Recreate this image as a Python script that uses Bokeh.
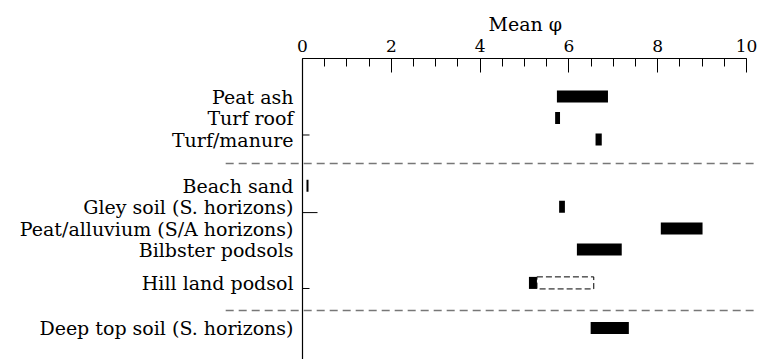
from bokeh.plotting import figure
from bokeh.models import Range1d, LinearAxis, SingleIntervalTicker, Span, ColumnDataSource, Title
from bokeh.core.properties import value
from bokeh.embed import file_html
from bokeh.resources import INLINE

# ---- data ----
rows = ["Peat ash", "Turf roof", "Turf/manure", "Beach sand",
        "Gley soil (S. horizons)", "Peat/alluvium (S/A horizons)",
        "Bilbster podsols", "Hill land podsol", "Deep top soil (S. horizons)"]
mean_lo = [5.73, 5.69, 6.60, 0.09, 5.78, 8.07, 6.18, 5.10, 6.49]
mean_hi = [6.88, 5.80, 6.74, 0.135, 5.91, 9.01, 7.19, 5.28, 7.35]
# dashed (uncertain) extension for Hill land podsol
ext_rows = ["Hill land podsol"]
ext_lo = [5.28]
ext_hi = [6.56]

# ---- layout (row positions in row units, top = 0) ----
row_pos = [0, 1, 2, 4.15, 5.13, 6.14, 7.12, 8.67, 10.77]
sep_pos = [3.12, 9.95]
ytick_pos = [1.79, 5.40, 8.93]
ytick_len = [7, 15, 7]
half_h = 0.28
FONT = "DejaVu Serif"

W, H = 757, 359
top_px = 58
x_px0, x_px_unit = 302.0, 44.4   # pixel of x=0 inside frame, px per unit
frame_w, frame_h = W, H - top_px
y_px0, y_unit = 38.0, 21.5       # Peat ash row pixel offset from frame top

p = figure(width=W, height=H, output_backend="svg", toolbar_location=None,
           x_axis_location=None, y_axis_location=None,
           min_border_left=0, min_border_right=0, min_border_bottom=0, min_border_top=top_px)
p.x_range = Range1d(-x_px0 / x_px_unit, (frame_w - x_px0) / x_px_unit)
p.y_range = Range1d((frame_h - y_px0) / y_unit, -y_px0 / y_unit)
p.outline_line_color = None
p.xgrid.visible = False
p.ygrid.visible = False

ax = LinearAxis(ticker=SingleIntervalTicker(interval=2, num_minor_ticks=4), bounds=(0, 10))
ax.axis_line_color = "black"
ax.axis_line_width = 1.2
ax.major_tick_in = 14
ax.major_tick_out = 0
ax.minor_tick_in = 8
ax.minor_tick_out = 0
ax.major_tick_line_color = "black"
ax.minor_tick_line_color = "black"
ax.major_label_text_font = FONT
ax.major_label_text_font_size = "17px"
ax.major_label_text_color = "black"
ax.major_label_standoff = 7
p.add_layout(ax, "above")

label_w = 72
t = Title(text="Mean φ", align="left", offset=x_px0 + 5 * x_px_unit - label_w / 2,
          text_font=FONT, text_font_size="19px", text_font_style="normal",
          text_color="black", standoff=3)
p.add_layout(t, "above")

# left axis line at x = 0
p.add_layout(Span(location=0, dimension="height", line_color="black", line_width=1.2))
p.ray(x=[0] * len(ytick_pos), y=ytick_pos, length=ytick_len, length_units="screen",
      angle=0, line_color="black", line_width=1)

# separators
p.segment(x0=[-1.73] * len(sep_pos), x1=[10.16] * len(sep_pos), y0=sep_pos, y1=sep_pos,
          line_color="#777777", line_width=1.5, line_dash="8 5")

ypos = dict(zip(rows, row_pos))
src = ColumnDataSource(dict(
    left=mean_lo, right=mean_hi,
    top=[ypos[r] - half_h for r in rows], bottom=[ypos[r] + half_h for r in rows]))
p.quad(left="left", right="right", top="top", bottom="bottom", source=src,
       fill_color="black", line_color=None)

ext = ColumnDataSource(dict(
    left=ext_lo, right=ext_hi,
    top=[ypos[r] - half_h for r in ext_rows], bottom=[ypos[r] + half_h for r in ext_rows]))
p.quad(left="left", right="right", top="top", bottom="bottom", source=ext,
       fill_color=None, line_color="black", line_width=1, line_dash="6 3")

p.text(x=[0] * len(rows), y=row_pos, text=rows, x_offset=-9,
       text_align="right", text_baseline="middle",
       text_font=value(FONT), text_font_size="19px", text_color="black")

open("out.html", "w").write(file_html(p, INLINE))
